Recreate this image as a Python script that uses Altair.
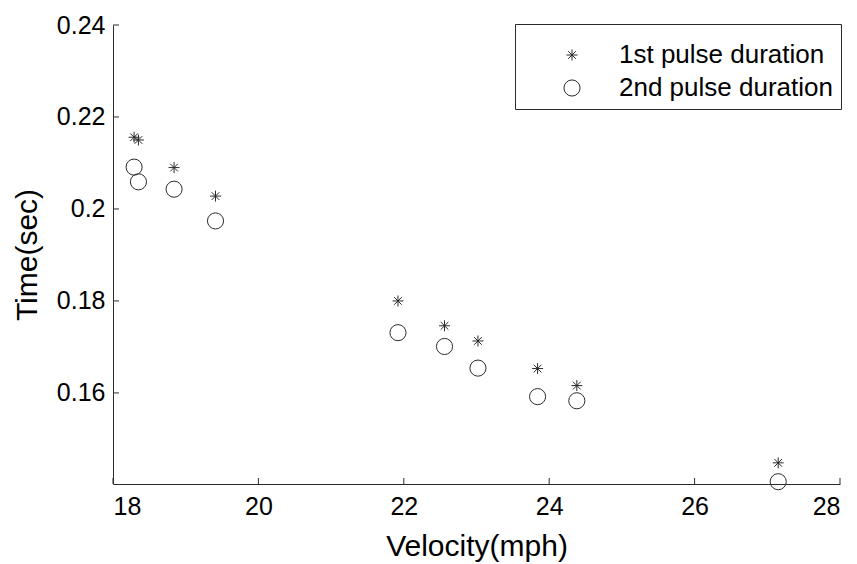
import altair as alt
import pandas as pd

# Data
velocity = [18.29, 18.35, 18.84, 19.41, 21.92, 22.56, 23.02, 23.84, 24.38, 27.15]
first_pulse = [0.2156, 0.2150, 0.2090, 0.2028, 0.1800, 0.1746, 0.1713, 0.1653, 0.1616, 0.1448]
second_pulse = [0.2091, 0.2059, 0.2043, 0.1974, 0.1731, 0.1701, 0.1654, 0.1592, 0.1583, 0.1407]
series_names = ["1st pulse duration", "2nd pulse duration"]
x_ticks = [18, 20, 22, 24, 26, 28]
y_ticks = [0.16, 0.18, 0.20, 0.22, 0.24]

rows = []
for v, a, b in zip(velocity, first_pulse, second_pulse):
    rows.append({"velocity": v, "time": a, "series": series_names[0]})
    rows.append({"velocity": v, "time": b, "series": series_names[1]})
df = pd.DataFrame(rows)

W, H = 727, 459
FONT = "Liberation Sans"
INK = "#2b2b2b"
STAR = "M-1,0L1,0M0,-1L0,1M-0.7,-0.7L0.7,0.7M-0.7,0.7L0.7,-0.7"

xscale = alt.Scale(domain=[18, 28], nice=False, zero=False)
yscale = alt.Scale(domain=[0.1402, 0.24], nice=False, zero=False)

xaxis = alt.Axis(values=x_ticks, ticks=False, tickSize=0, grid=False, domainColor=INK,
                 labelFont=FONT, labelFontSize=25, labelColor="black", labelPadding=10,
                 format="d",
                 title="Velocity(mph)", titleFont=FONT, titleFontSize=30,
                 titleFontWeight="normal", titleColor="black", titlePadding=12)
yaxis = alt.Axis(values=y_ticks, ticks=False, tickSize=0, grid=False, domainColor=INK,
                 labelFont=FONT, labelFontSize=25, labelColor="black", labelPadding=8,
                 format=".2~f",
                 title="Time(sec)", titleFont=FONT, titleFontSize=30,
                 titleFontWeight="normal", titleColor="black", titlePadding=14)

legend = alt.Legend(orient="none", legendX=402, legendY=-1, title=" ",
                    titleFontSize=10, titlePadding=0,
                    strokeColor=INK, fillColor="white", padding=8,
                    labelFont=FONT, labelFontSize=26, labelColor="black", labelLimit=400,
                    symbolStrokeWidth=1, symbolStrokeColor=INK, symbolFillColor="transparent",
                    symbolOffset=36, labelOffset=34, rowPadding=7)

points = alt.Chart(df).mark_point(filled=False, strokeWidth=1, opacity=1).encode(
    x=alt.X("velocity:Q", scale=xscale, axis=xaxis),
    y=alt.Y("time:Q", scale=yscale, axis=yaxis),
    shape=alt.Shape("series:N", scale=alt.Scale(domain=series_names, range=[STAR, "circle"]),
                    legend=legend),
    size=alt.Size("series:N", scale=alt.Scale(domain=series_names, range=[120, 260]),
                  legend=legend),
    color=alt.value(INK),
)

ytick_df = pd.DataFrame({"v": y_ticks})
xtick_df = pd.DataFrame({"v": x_ticks})
yticks = alt.Chart(ytick_df).mark_rule(color=INK, strokeWidth=1).encode(
    y=alt.Y("v:Q", scale=yscale), x=alt.value(0), x2=alt.value(6))
xticks = alt.Chart(xtick_df).mark_rule(color=INK, strokeWidth=1).encode(
    x=alt.X("v:Q", scale=xscale), y=alt.value(H), y2=alt.value(H - 6))

chart = alt.layer(points, yticks, xticks).properties(
    width=W, height=H,
    autosize=alt.AutoSizeParams(type="none"),
    padding={"left": 113, "top": 25, "right": 17, "bottom": 80},
    background="white",
).configure_view(stroke=None)

chart.save("out.html", embed_options={"renderer": "svg", "actions": False})
